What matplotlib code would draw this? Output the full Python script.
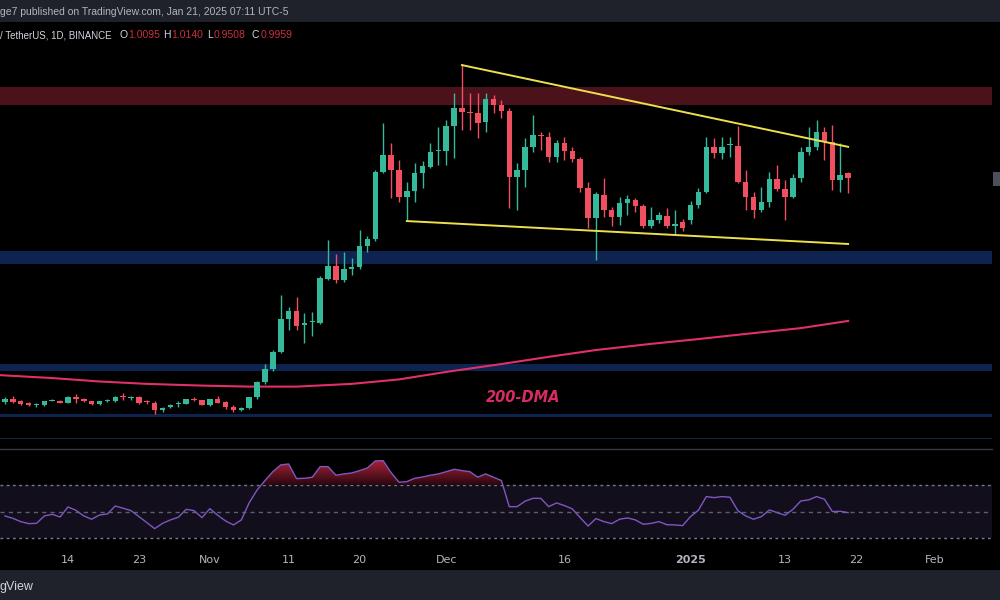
import numpy as np
import pandas as pd
import matplotlib
matplotlib.use('Agg')
import matplotlib.pyplot as plt
import matplotlib.dates as mdates
from matplotlib.patches import Rectangle, PathPatch
from matplotlib.path import Path
from matplotlib.lines import Line2D
from matplotlib.colors import LinearSegmentedColormap

# daily candles, ADA/USDT 1D
dates = pd.date_range('2024-10-06', '2025-01-21', freq='D')

opens = [0.341, 0.350, 0.343, 0.337, 0.331, 0.332, 0.345, 0.345, 0.339, 0.357,
         0.350, 0.343, 0.334, 0.344, 0.343, 0.357, 0.352, 0.356, 0.342, 0.339,
         0.317, 0.326, 0.334, 0.336, 0.349, 0.346, 0.333, 0.351, 0.340, 0.326,
         0.317, 0.324, 0.355, 0.399, 0.437, 0.488, 0.583, 0.607, 0.566, 0.576,
         0.573, 0.702, 0.739, 0.698, 0.729, 0.735, 0.797, 0.817, 1.014, 1.063,
         1.019, 0.940, 0.958, 1.010, 1.029, 1.074, 1.076, 1.148, 1.200, 1.190,
         1.185, 1.159, 1.227, 1.209, 1.193, 1.000, 1.019, 1.086, 1.122, 1.117,
         1.058, 1.097, 1.076, 1.051, 0.966, 0.878, 0.946, 0.902, 0.881, 0.922,
         0.932, 0.914, 0.857, 0.873, 0.885, 0.857, 0.867, 0.873, 0.917, 0.956,
         1.088, 1.068, 1.092, 1.090, 0.985, 0.941, 0.902, 0.927, 0.992, 0.963,
         0.940, 0.995, 1.073, 1.088, 1.131, 1.102, 0.990, 1.0095]
highs = [0.356, 0.360, 0.347, 0.341, 0.339, 0.345, 0.351, 0.348, 0.360, 0.364,
         0.353, 0.345, 0.345, 0.351, 0.359, 0.367, 0.359, 0.359, 0.348, 0.343,
         0.326, 0.334, 0.345, 0.351, 0.357, 0.348, 0.351, 0.359, 0.343, 0.332,
         0.326, 0.357, 0.403, 0.452, 0.493, 0.654, 0.618, 0.649, 0.602, 0.605,
         0.709, 0.815, 0.774, 0.781, 0.761, 0.844, 0.825, 1.019, 1.156, 1.098,
         1.049, 0.985, 1.039, 1.047, 1.097, 1.146, 1.166, 1.244, 1.329, 1.244,
         1.244, 1.244, 1.239, 1.224, 1.200, 1.039, 1.112, 1.180, 1.131, 1.131,
         1.107, 1.117, 1.086, 1.058, 0.985, 0.956, 0.995, 0.912, 0.941, 0.946,
         0.937, 0.920, 0.912, 0.897, 0.907, 0.902, 0.876, 0.929, 0.966, 1.117,
         1.112, 1.115, 1.115, 1.148, 1.019, 0.956, 0.969, 1.014, 1.034, 0.990,
         1.008, 1.088, 1.144, 1.166, 1.146, 1.151, 1.097, 1.0140]
lows = [0.335, 0.338, 0.332, 0.328, 0.326, 0.329, 0.343, 0.337, 0.337, 0.337,
        0.341, 0.332, 0.332, 0.341, 0.341, 0.347, 0.348, 0.335, 0.335, 0.306,
        0.313, 0.324, 0.326, 0.334, 0.343, 0.331, 0.329, 0.337, 0.322, 0.313,
        0.315, 0.322, 0.350, 0.394, 0.432, 0.484, 0.552, 0.552, 0.514, 0.534,
        0.569, 0.698, 0.689, 0.692, 0.712, 0.730, 0.780, 0.812, 1.011, 0.938,
        0.927, 0.873, 0.927, 0.966, 1.025, 1.034, 1.034, 1.054, 1.136, 1.136,
        1.112, 1.131, 1.185, 1.171, 0.908, 0.902, 0.971, 1.073, 1.078, 1.044,
        1.044, 1.049, 1.043, 0.956, 0.849, 0.756, 0.883, 0.856, 0.859, 0.888,
        0.897, 0.849, 0.849, 0.864, 0.849, 0.829, 0.841, 0.862, 0.908, 0.952,
        1.054, 1.051, 1.058, 0.981, 0.902, 0.878, 0.897, 0.912, 0.958, 0.873,
        0.937, 0.985, 1.063, 1.078, 1.049, 0.961, 0.956, 0.9508]
closes = [0.349, 0.342, 0.335, 0.331, 0.333, 0.343, 0.347, 0.339, 0.357, 0.350,
          0.343, 0.334, 0.343, 0.347, 0.357, 0.355, 0.356, 0.339, 0.340, 0.318,
          0.324, 0.331, 0.337, 0.349, 0.347, 0.333, 0.349, 0.339, 0.326, 0.318,
          0.324, 0.355, 0.399, 0.437, 0.488, 0.583, 0.607, 0.563, 0.572, 0.579,
          0.703, 0.739, 0.698, 0.729, 0.735, 0.797, 0.817, 1.014, 1.063, 1.019,
          0.941, 0.958, 1.010, 1.031, 1.073, 1.078, 1.148, 1.202, 1.190, 1.185,
          1.158, 1.227, 1.209, 1.193, 1.000, 1.019, 1.086, 1.122, 1.119, 1.058,
          1.097, 1.076, 1.051, 0.966, 0.878, 0.949, 0.902, 0.881, 0.922, 0.934,
          0.914, 0.857, 0.873, 0.888, 0.856, 0.859, 0.850, 0.917, 0.956, 1.088,
          1.068, 1.088, 1.095, 0.985, 0.941, 0.902, 0.927, 0.992, 0.963, 0.941,
          0.995, 1.073, 1.088, 1.131, 1.102, 0.990, 1.005, 0.9959]

rsi_vals = [47.0, 45.2, 42.7, 41.2, 41.4, 47.0, 48.2, 46.2,
            53.8, 51.3, 47.0, 44.5, 47.7, 48.5, 54.5, 52.8, 51.0, 46.5,
            42.0, 37.4, 41.4, 44.0, 46.0, 52.0, 51.0, 45.7, 52.5, 47.5,
            43.2, 40.2, 44.0, 57.0, 66.6, 73.7, 80.4, 85.5, 86.2, 75.2,
            75.4, 76.2, 84.2, 84.2, 77.7, 78.7, 79.4, 81.2, 83.2, 88.5,
            88.7, 79.7, 72.4, 72.9, 75.4, 76.4, 77.7, 78.7, 80.4, 82.2,
            81.2, 80.4, 76.2, 78.7, 76.2, 73.7, 54.0, 54.0, 58.1, 60.3,
            60.3, 54.0, 56.8, 54.8, 52.3, 45.7, 39.4, 45.0, 42.7, 41.2,
            44.5, 45.5, 44.0, 40.7, 41.4, 42.7, 40.4, 40.2, 39.7, 46.5,
            51.3, 61.6, 60.8, 61.6, 61.1, 51.0, 47.0, 44.5, 46.5, 51.5,
            49.5, 47.5, 52.0, 58.3, 59.1, 61.6, 59.6, 50.3, 50.5, 49.5]

# 200-day moving average, sampled
dma_dates = pd.to_datetime(['2024-10-05', '2024-10-12', '2024-10-18', '2024-10-24',
                            '2024-10-31', '2024-11-06', '2024-11-12', '2024-11-19',
                            '2024-11-25', '2024-12-01', '2024-12-08', '2024-12-14',
                            '2024-12-20', '2024-12-27', '2025-01-02', '2025-01-08',
                            '2025-01-15', '2025-01-21'])
dma_vals = [0.420, 0.411, 0.401, 0.394, 0.389, 0.386, 0.386, 0.394, 0.407,
            0.429, 0.452, 0.473, 0.493, 0.511, 0.525, 0.540, 0.557, 0.578]

# wedge trendlines
upper_dates = pd.to_datetime(['2024-12-03', '2025-01-21'])
upper_vals = [1.326, 1.087]
lower_dates = pd.to_datetime(['2024-11-26', '2025-01-21'])
lower_vals = [0.870, 0.803]

# horizontal zones (low, high)
red_zone = (1.209, 1.262)
blue_zones = [(0.745, 0.783), (0.432, 0.452), (0.296, 0.306), (0.232, 0.236)]

tick_dates = pd.to_datetime(['2024-10-14', '2024-10-23', '2024-11-01', '2024-11-11',
                             '2024-11-20', '2024-12-01', '2024-12-16', '2025-01-01',
                             '2025-01-13', '2025-01-22', '2025-02-01'])
tick_labels = ['14', '23', 'Nov', '11', '20', 'Dec', '16', '2025', '13', '22', 'Feb']

ohlc_labels = ['O', 'H', 'L', 'C']
ohlc_values = ['1.0095', '1.0140', '0.9508', '0.9959']

UP = '#35b99a'
DOWN = '#ef4f5f'
W, H = 1000, 600


def fx(x):
    return x / W


def fy(y):
    return 1 - y / H


fig = plt.figure(figsize=(10, 6), dpi=100, facecolor='black')
ax = fig.add_axes([0, fy(449), 0.992, (449 - 22) / H])
rx = fig.add_axes([0, fy(548), 0.992, (548 - 449) / H])

x0 = mdates.date2num(pd.Timestamp('2024-10-14'))
xlim = (x0 - 68 / 7.88, x0 + 924 / 7.88)

# ---- price pane
ax.set_facecolor('black')
ax.set_xlim(*xlim)
ax.set_ylim(0.2036, 1.452)
ax.axis('off')

ax.axhspan(*red_zone, color='#4b121c', lw=0, zorder=0)
for lo, hi in blue_zones:
    ax.axhspan(lo, hi, color='#0f2350', lw=0, zorder=0)

ax.plot(mdates.date2num(dma_dates), dma_vals, color='#e0306a', lw=1.5, zorder=2)

x = mdates.date2num(dates)
o, h, l, c = map(np.array, (opens, highs, lows, closes))
col = np.where(c >= o, UP, DOWN)
ax.vlines(x, l, h, colors=col, lw=1, zorder=3)
ax.bar(x, np.maximum(np.abs(c - o), 0.003), bottom=np.minimum(o, c),
       width=0.7, color=col, linewidth=0, zorder=3)

ax.plot(mdates.date2num(upper_dates), upper_vals, color='#ece04c', lw=1.4, zorder=4)
ax.plot(mdates.date2num(lower_dates), lower_vals, color='#ece04c', lw=1.4, zorder=4)

fig.text(fx(523), fy(397), '200-DMA', color='#d92c62', fontsize=10.5,
         fontweight='bold', fontstyle='italic', ha='center', va='center')

# ---- RSI pane
rsi = np.array(rsi_vals)
rx.set_facecolor('black')
rx.set_xlim(*xlim)
rx.set_ylim(22.8, 97.5)
for s in rx.spines.values():
    s.set_visible(False)
rx.set_yticks([])
rx.axhspan(30, 70, color='#120e1c', lw=0, zorder=0)
for lvl in (70, 30):
    rx.axhline(lvl, color='#787b86', lw=1, ls=(0, (2, 2.5)), zorder=1)
rx.axhline(50, color='#5d606b', lw=1, ls=(0, (3, 3)), zorder=1)

# overbought area, red gradient clipped to the part above 70
fill = rx.fill_between(x, 70, rsi, where=rsi > 70, interpolate=True,
                       color='none', lw=0)
clip = PathPatch(Path.make_compound_path(*fill.get_paths()),
                 transform=rx.transData, fc='none', ec='none')
rx.add_patch(clip)
grad = np.linspace(1, 0, 100).reshape(-1, 1)
cmap = LinearSegmentedColormap.from_list('ob', ['#2a0710', '#c2283f'])
im = rx.imshow(grad, cmap=cmap, aspect='auto', extent=(xlim[0], xlim[1], 70, 92),
               origin='upper', zorder=1.5)
im.set_clip_path(clip)
rx.plot(x, rsi, color='#7e57c2', lw=1, zorder=3)

rx.set_xticks(mdates.date2num(tick_dates))
rx.set_xticklabels(tick_labels)
rx.tick_params(axis='x', length=0, pad=5, labelcolor='#b2b5be', labelsize=8)
for t in rx.get_xticklabels():
    if t.get_text() == '2025':
        t.set_fontweight('bold')

# ---- chrome
fig.add_artist(Line2D([0, 0.992], [fy(449), fy(449)], color='#363a45', lw=1))
fig.add_artist(Rectangle((0, fy(22)), 1, 22 / H, transform=fig.transFigure,
                         color='#1f222a', lw=0))
fig.add_artist(Rectangle((0, 0), 1, 30 / H, transform=fig.transFigure,
                         color='#1f222a', lw=0))
fig.add_artist(Rectangle((fx(993), fy(186)), 7 / W, 14 / H, transform=fig.transFigure,
                         color='#4d505a', lw=0))

font = dict(fontsize=7.5, family='Liberation Sans')
fig.text(fx(0), fy(12), 'ge7 published on TradingView.com, Jan 21, 2025 07:11 UTC-5',
         color='#b2b5be', va='center', **font)
fig.text(fx(0), fy(35), '/ TetherUS, 1D, BINANCE', color='#d1d4dc', va='center',
         fontsize=7, family='Liberation Sans')
for xp, lab, val in zip([119, 163, 207, 252], ohlc_labels, ohlc_values):
    t = fig.text(fx(xp), fy(35), lab, color='#d1d4dc', va='center', **font)
    ax.annotate(val, xy=(1, 0.5), xycoords=t, xytext=(0.5, 0),
                textcoords='offset points', va='center', color='#c8303f',
                annotation_clip=False, **font)
fig.text(fx(0), fy(587), 'gView', color='#d1d4dc', fontsize=9,
         family='Liberation Sans', ha='left', va='center')

fig.savefig('out.png', dpi=100, facecolor='black')
